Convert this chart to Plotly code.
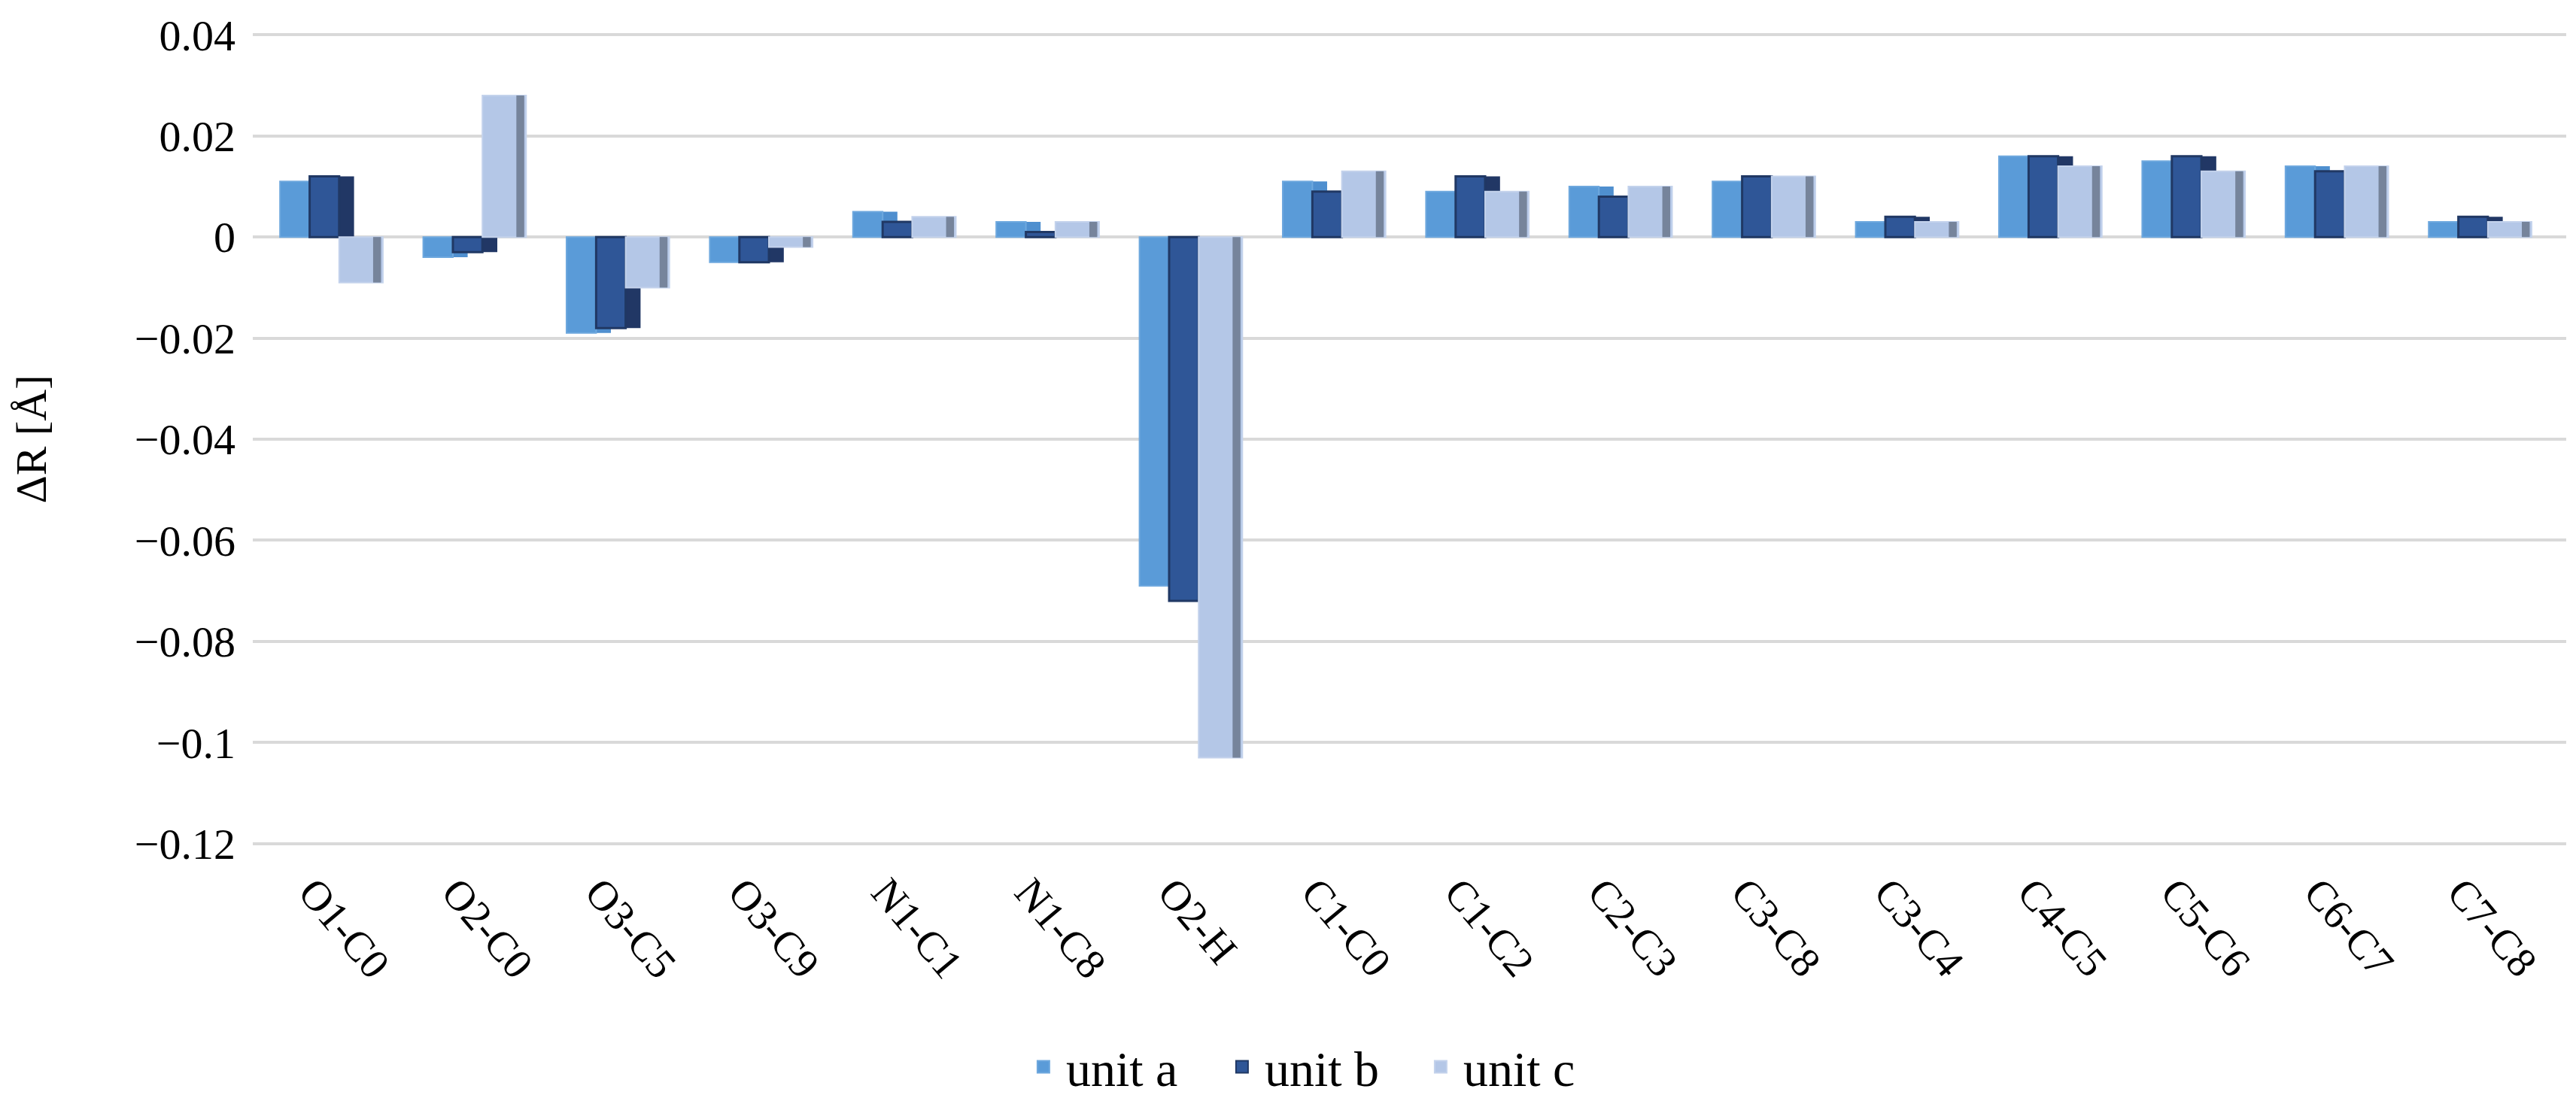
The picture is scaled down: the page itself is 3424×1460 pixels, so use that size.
import plotly.graph_objects as go

categories = ["O1-C0", "O2-C0", "O3-C5", "O3-C9", "N1-C1", "N1-C8", "O2-H", "C1-C0",
              "C1-C2", "C2-C3", "C3-C8", "C3-C4", "C4-C5", "C5-C6", "C6-C7", "C7-C8"]
unit_a = [0.011, -0.004, -0.019, -0.005, 0.005, 0.003, -0.069, 0.011,
          0.009, 0.010, 0.011, 0.003, 0.016, 0.015, 0.014, 0.003]
unit_b = [0.012, -0.003, -0.018, -0.005, 0.003, 0.001, -0.072, 0.009,
          0.012, 0.008, 0.012, 0.004, 0.016, 0.016, 0.013, 0.004]
unit_c = [-0.009, 0.028, -0.010, -0.002, 0.004, 0.003, -0.103, 0.013,
          0.009, 0.010, 0.012, 0.003, 0.014, 0.013, 0.014, 0.003]
series_names = ["unit a", "unit b", "unit c"]
series_colors = ["#5a9bd8", "#2f5697", "#b4c7e7"]
y_tickvals = [0.04, 0.02, 0, -0.02, -0.04, -0.06, -0.08, -0.1, -0.12]
y_ticktext = ["0.04", "0.02", "0", "\u22120.02", "\u22120.04", "\u22120.06",
              "\u22120.08", "\u22120.1", "\u22120.12"]

FONT = "Liberation Serif, Times New Roman, serif"
FS = 58

fig = go.Figure()

# shadow of unit a (mostly hidden behind unit b)
fig.add_trace(go.Bar(x=categories, y=unit_a, offset=-0.233, width=0.21,
                     marker=dict(color="#4f8fcf", line=dict(width=0)),
                     showlegend=False, hoverinfo="skip"))
# unit a face
fig.add_trace(go.Bar(x=categories, y=unit_a, name=series_names[0], offset=-0.333, width=0.207,
                     marker=dict(color=series_colors[0], line=dict(color="#6ea8de", width=2)),
                     legendgroup="a", showlegend=False))
# shadow of unit b
fig.add_trace(go.Bar(x=categories, y=unit_b, offset=-0.026, width=0.21,
                     marker=dict(color="#213765", line=dict(width=0)),
                     showlegend=False, hoverinfo="skip"))
# unit b face
fig.add_trace(go.Bar(x=categories, y=unit_b, name=series_names[1], offset=-0.126, width=0.206,
                     marker=dict(color=series_colors[1], line=dict(color="#203864", width=3)),
                     legendgroup="b", showlegend=False))
# unit c face
fig.add_trace(go.Bar(x=categories, y=unit_c, name=series_names[2], offset=0.08, width=0.305,
                     marker=dict(color=series_colors[2], line=dict(color="#c3d2ec", width=2)),
                     legendgroup="c", showlegend=False))
# grey stripe on unit c
fig.add_trace(go.Bar(x=categories, y=unit_c, offset=0.317, width=0.055,
                     marker=dict(color="#76849b", line=dict(width=0)),
                     showlegend=False, hoverinfo="skip"))

# legend entries (larger square symbols than the bar legend icon)
legend_lines = ["#6ea8de", "#203864", "#c3d2ec"]
for name, col, lc, grp in zip(series_names, series_colors, legend_lines, ["a", "b", "c"]):
    fig.add_trace(go.Scatter(x=[None], y=[None], mode="markers", name=name, legendgroup=grp,
                             marker=dict(symbol="square", size=30, color=col,
                                         line=dict(color=lc, width=2))))

fig.update_layout(
    width=3424, height=1460,
    barmode="overlay",
    plot_bgcolor="white", paper_bgcolor="white",
    margin=dict(l=328, r=21, t=37, b=345, autoexpand=False),
    font=dict(family=FONT, size=FS, color="black"),
    legend=dict(orientation="h", x=0.332, xanchor="left",
                yref="container", y=0.0, yanchor="bottom",
                font=dict(family=FONT, size=66), traceorder="normal",
                itemsizing="trace", itemwidth=50,
                entrywidth=199, entrywidthmode="pixels"),
    xaxis=dict(type="category", range=[-0.523, 15.627], tickangle=50,
               showgrid=False, showline=False, zeroline=False, ticks="",
               tickfont=dict(family=FONT, size=56), ticklabelstandoff=18,
               ticklabelshift=-20, automargin=False),
    yaxis=dict(range=[-0.1202, 0.0402], tickvals=y_tickvals, ticktext=y_ticktext,
               showgrid=True, gridcolor="#d9d9d9", gridwidth=4,
               zeroline=True, zerolinecolor="#d9d9d9", zerolinewidth=4,
               showline=False, ticks="", ticklabelstandoff=22, ticklabeloverflow="allow",
               tickfont=dict(family=FONT, size=FS), automargin=False,
               title=dict(text="\u0394R [\u00c5]", font=dict(family=FONT, size=FS), standoff=98)),
)

fig.write_html("out.html")
